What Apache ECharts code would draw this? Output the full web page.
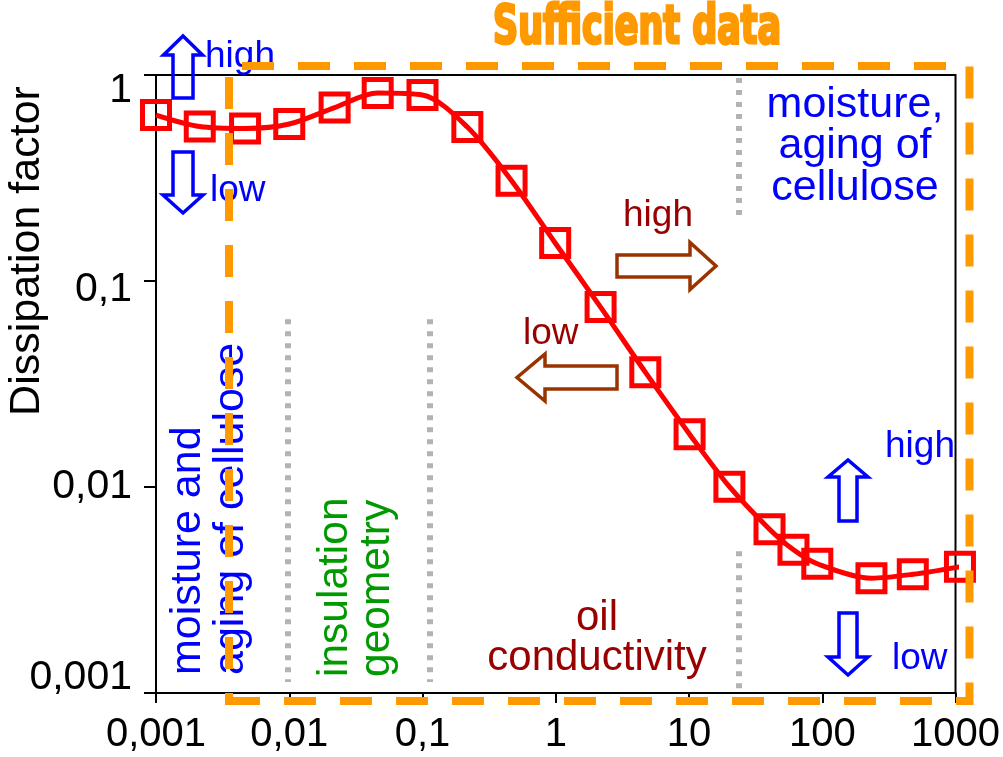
<!DOCTYPE html>
<html><head><meta charset="utf-8">
<script src="https://cdn.jsdelivr.net/npm/echarts@6/dist/echarts.min.js"></script>
<style>html,body{margin:0;padding:0;background:#fff}#c{width:1003px;height:757px}</style>
</head><body><div id="c"></div>
<script>
// ---- data ----
const frequencies = [0.001, 0.00213, 0.00466, 0.01, 0.0219, 0.0461, 0.1, 0.217, 0.466, 0.99,
  2.17, 4.7, 10.1, 20.1, 40.2, 60.8, 91.8, 234, 478, 1080];
const dissipation = [0.639, 0.562, 0.550, 0.578, 0.695, 0.818, 0.800, 0.559, 0.307, 0.153,
  0.0747, 0.0361, 0.01805, 0.01003, 0.00624, 0.00496, 0.00424, 0.00361, 0.00377, 0.0041];
const xTickLabels = ['0,001', '0,01', '0,1', '1', '10', '100', '1000'];
const yTickLabels = ['0,001', '0,01', '0,1', '1'];
// dotted separators [x, yFrom, yTo] in data units
const separators = [[0.0097, 0.0653, 0.00113], [0.114, 0.0653, 0.00113], [23.6, 0.967, 0.204], [23.6, 0.00488, 0.00105]];

const FONT = '"Liberation Sans", Arial, sans-serif';
const chart = echarts.init(document.getElementById('c'), null, {renderer: 'canvas'});

function arrow(tx, ty, hx, hy, shaft, head, headLen, color) {
  const L = Math.hypot(hx - tx, hy - ty), dx = (hx - tx) / L, dy = (hy - ty) / L;
  const nx = -dy, ny = dx;
  const bx = hx - dx * headLen, by = hy - dy * headLen;
  const s = shaft / 2, h = head / 2;
  return {
    type: 'polygon', z: 10,
    shape: {points: [[tx + nx * s, ty + ny * s], [bx + nx * s, by + ny * s], [bx + nx * h, by + ny * h], [hx, hy],
      [bx - nx * h, by - ny * h], [bx - nx * s, by - ny * s], [tx - nx * s, ty - ny * s]]},
    style: {fill: 'rgba(0,0,0,0)', stroke: color, lineWidth: 3.5, lineJoin: 'miter'}
  };
}
function txt(t, x, y, size, color, align, rot) {
  return {type: 'text', x: x, y: y, rotation: rot || 0, z: 10,
    style: {text: t, font: size + 'px ' + FONT, fill: color, align: align || 'left', verticalAlign: 'middle'}};
}

const ctx = document.createElement('canvas').getContext('2d');
const titleFont = 'bold 53px "Liberation Sans Narrow", "DejaVu Sans Condensed", sans-serif';
ctx.font = titleFont;
const titleScale = 288 / ctx.measureText('Sufficient data').width;

const BLUE = '#0000ff', DRED = '#990000', BROWN = '#993300', GREEN = '#009900';
const R90 = Math.PI / 2;

const graphics = [
  {type: 'text', x: 637, y: 29.5, scaleX: titleScale, z: 10,
    style: {text: 'Sufficient data', font: titleFont, fill: '#ff9900', stroke: '#ff9900', lineWidth: 3, align: 'center', verticalAlign: 'middle'}},
  txt('Dissipation factor', 27, 251, 43, '#000', 'center', R90),
  arrow(183, 98, 183, 36, 20, 39, 19, BLUE),
  arrow(183, 152, 183, 213, 20, 40, 18, BLUE),
  txt('high', 205, 57, 37, BLUE),
  txt('low', 210, 191, 37, BLUE),
  txt('moisture,', 855, 105, 43, BLUE, 'center'),
  txt('aging of', 855, 146, 43, BLUE, 'center'),
  txt('cellulose', 855, 188, 43, BLUE, 'center'),
  txt('high', 623, 216, 37, DRED),
  arrow(617, 266, 716, 266, 22, 47, 26, BROWN),
  txt('low', 523, 334, 37, DRED),
  arrow(617, 377.5, 517, 377.5, 23, 47, 28, BROWN),
  txt('high', 885, 447, 37, BLUE),
  arrow(848, 521, 848, 460, 18, 40, 17, BLUE),
  arrow(848, 613, 848, 675, 18, 40, 18, BLUE),
  txt('low', 892, 659, 37, BLUE),
  txt('oil', 597, 618, 42, DRED, 'center'),
  txt('conductivity', 597, 658, 42, DRED, 'center'),
  txt('insulation', 335, 677, 42.5, GREEN, 'left', R90),
  txt('geometry', 377, 677, 42.5, GREEN, 'left', R90),
  txt('moisture and', 188, 675, 43, BLUE, 'left', R90),
  txt('aging of cellulose', 231, 675, 43, BLUE, 'left', R90),
  {type: 'polygon', z: 100, silent: true,
    shape: {points: [[229, 701], [229, 66], [969.5, 66], [969.5, 701]]},
    style: {fill: 'rgba(0,0,0,0)', stroke: '#ff9900', lineWidth: 8, lineDash: [32, 24], lineDashOffset: 24, lineCap: 'butt'}}
];

const yRich = {
  b: {fontSize: 41, fontFamily: FONT, color: '#000', padding: [0, 0, 30, 0]},
  n: {fontSize: 41, fontFamily: FONT, color: '#000'},
  m: {fontSize: 41, fontFamily: FONT, color: '#000', padding: [18, 0, 0, 0]},
  t: {fontSize: 41, fontFamily: FONT, color: '#000', padding: [31, 0, 0, 0]}
};

chart.setOption({
  backgroundColor: '#fff',
  animation: false,
  grid: {left: 156, right: 43, top: 75, bottom: 64, show: true, borderColor: '#000', borderWidth: 2, backgroundColor: 'rgba(0,0,0,0)'},
  xAxis: {
    type: 'log', logBase: 10, min: 0.001, max: 1000,
    axisLine: {show: true, lineStyle: {color: '#000', width: 2}},
    axisTick: {show: true, inside: false, length: 10, lineStyle: {color: '#000', width: 2}},
    minorTick: {show: false}, splitLine: {show: false}, minorSplitLine: {show: false},
    axisLabel: {fontSize: 40, fontFamily: FONT, color: '#000', margin: 22,
      formatter: v => xTickLabels[Math.round(Math.log10(v)) + 3]}
  },
  yAxis: {
    type: 'log', logBase: 10, min: 0.001, max: 1,
    axisLine: {show: true, lineStyle: {color: '#000', width: 2}},
    axisTick: {show: true, inside: false, length: 12, lineStyle: {color: '#000', width: 2}},
    minorTick: {show: false}, splitLine: {show: false}, minorSplitLine: {show: false},
    axisLabel: {fontSize: 41, fontFamily: FONT, color: '#000', margin: 24, rich: yRich,
      formatter: v => { const i = Math.round(Math.log10(v)) + 3; return '{' + ['b', 'n', 'm', 't'][i] + '|' + yTickLabels[i] + '}'; }}
  },
  series: [{
    type: 'line',
    data: frequencies.map((f, i) => [f, dissipation[i]]),
    smooth: 0.3, clip: false, z: 3,
    symbol: 'rect', symbolSize: 27,
    lineStyle: {color: '#ff0000', width: 5},
    itemStyle: {color: 'rgba(0,0,0,0)', borderColor: '#ff0000', borderWidth: 5},
    emphasis: {disabled: true},
    markLine: {
      silent: true, symbol: ['none', 'none'], label: {show: false}, animation: false,
      lineStyle: {color: '#b3b3b3', width: 6, type: [5, 7], cap: 'butt'},
      emphasis: {disabled: true},
      data: separators.map(s => [{coord: [s[0], s[1]]}, {coord: [s[0], s[2]]}])
    }
  }],
  graphic: graphics
});
</script></body></html>
